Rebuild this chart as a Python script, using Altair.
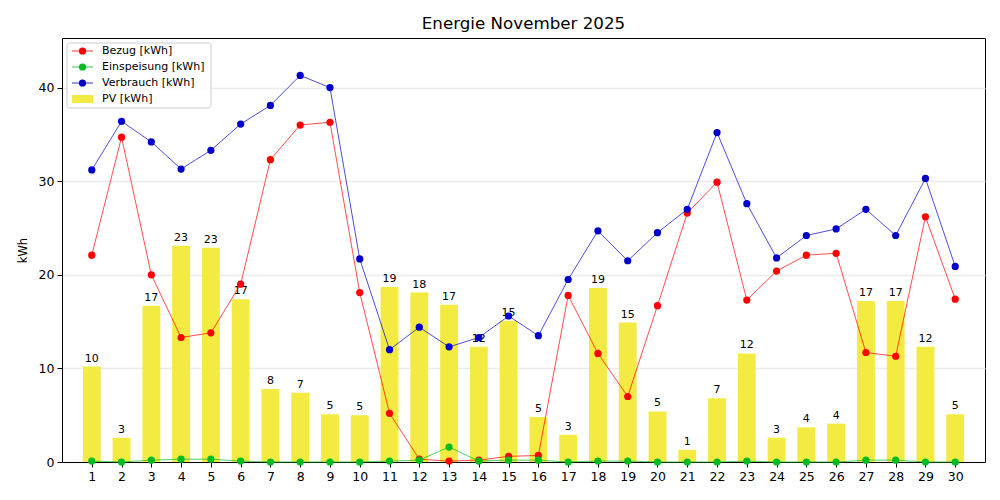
import altair as alt
import pandas as pd

days = list(range(1, 31))
bezug = [22.1, 34.7, 20.0, 13.3, 13.8, 19.0, 32.3, 36.0, 36.3, 18.1,
         5.2, 0.3, 0.1, 0.2, 0.6, 0.7, 17.8, 11.6, 7.0, 16.7,
         26.6, 29.9, 17.3, 20.4, 22.1, 22.3, 11.7, 11.3, 26.2, 17.4]
einspeisung = [0.1, 0.0, 0.2, 0.3, 0.3, 0.1, 0.0, 0.0, 0.0, 0.0,
               0.1, 0.2, 1.6, 0.1, 0.2, 0.2, 0.0, 0.1, 0.1, 0.0,
               0.0, 0.0, 0.1, 0.0, 0.0, 0.0, 0.2, 0.2, 0.0, 0.0]
verbrauch = [31.2, 36.4, 34.2, 31.3, 33.3, 36.1, 38.1, 41.3, 40.0, 21.7,
             12.0, 14.4, 12.3, 13.3, 15.6, 13.5, 19.5, 24.7, 21.5, 24.5,
             27.0, 35.2, 27.6, 21.8, 24.2, 24.9, 27.0, 24.2, 30.3, 20.9]
pv = [10.2, 2.6, 16.7, 23.1, 22.9, 17.4, 7.8, 7.4, 5.1, 5.0,
      18.7, 18.1, 16.8, 12.3, 15.1, 4.8, 2.9, 18.6, 14.9, 5.4,
      1.3, 6.8, 11.6, 2.6, 3.7, 4.1, 17.2, 17.2, 12.3, 5.1]

series_names = ["Bezug [kWh]", "Einspeisung [kWh]", "Verbrauch [kWh]", "PV [kWh]"]
series_colors = ["#ff0000", "#00bb22", "#0000cc", "#f3eb42"]

df = pd.DataFrame({"day": days, "bezug": bezug, "einspeisung": einspeisung,
                   "verbrauch": verbrauch, "pv": pv})

FONT = "DejaVu Sans"

x_scale = alt.Scale(domain=[0, 31], nice=False, zero=False)
y_scale = alt.Scale(domain=[0, 45.3], nice=False)

x_axis = alt.Axis(values=days, title=None, grid=False, labelFontSize=12.5,
                  tickSize=5, labelPadding=3, labelColor="#000000",
                  tickColor="#000000", domainColor="#000000", labelFlush=False,
                  labelOverlap=False, format="d")
y_axis = alt.Axis(values=[0, 10, 20, 30, 40], title="kWh", grid=True,
                  gridColor="#ebebeb", gridWidth=1.3, labelFontSize=12.5,
                  tickSize=5, labelPadding=3, titleFontSize=11.5,
                  titleFontWeight="normal", titlePadding=10,
                  labelColor="#000000", tickColor="#000000",
                  domainColor="#000000", titleColor="#000000",
                  labelOverlap=False, format="d")

base = alt.Chart(df)

bars = base.mark_bar(color=series_colors[3]).transform_calculate(
    x0="datum.day - 0.3", x1="datum.day + 0.3"
).encode(
    x=alt.X("x0:Q", scale=x_scale, axis=x_axis),
    x2="x1:Q",
    y=alt.Y("pv:Q", scale=y_scale, axis=y_axis),
    y2=alt.datum(0),
)

labels = base.mark_text(baseline="bottom", dy=-3, fontSize=11, font=FONT,
                        color="#000000").encode(
    x=alt.X("day:Q", scale=x_scale, axis=x_axis),
    y=alt.Y("pv:Q", scale=y_scale, axis=y_axis),
    text=alt.Text("pv:Q", format=".0f"),
)


def series(field, color):
    return base.mark_line(color=color, strokeWidth=0.7, point=alt.OverlayMarkDef(
        filled=True, size=52, color=color, opacity=1)).encode(
        x=alt.X("day:Q", scale=x_scale, axis=x_axis),
        y=alt.Y(f"{field}:Q", scale=y_scale, axis=y_axis),
    )


l_bez = series("bezug", series_colors[0])
l_ein = series("einspeisung", series_colors[1])
l_ver = series("verbrauch", series_colors[2])

# custom legend (matplotlib style)
one = pd.DataFrame({"k": [0]})
leg_layers = []
leg_layers.append(alt.Chart(one).mark_rect(
    fill="white", fillOpacity=0.85, stroke="#cccccc", strokeWidth=1,
    cornerRadius=3).encode(
    x=alt.value(5), x2=alt.value(149), y=alt.value(5), y2=alt.value(70)))
leg_y = [13, 29, 45, 61]
for i, name in enumerate(series_names):
    yy = leg_y[i]
    if i < 3:
        leg_layers.append(alt.Chart(one).mark_rule(
            color=series_colors[i], strokeWidth=0.8).encode(
            x=alt.value(10), x2=alt.value(31), y=alt.value(yy)))
        leg_layers.append(alt.Chart(one).mark_circle(
            color=series_colors[i], size=52, opacity=1).encode(
            x=alt.value(20.5), y=alt.value(yy)))
    else:
        leg_layers.append(alt.Chart(one).mark_rect(
            color=series_colors[i]).encode(
            x=alt.value(10), x2=alt.value(31), y=alt.value(yy - 4),
            y2=alt.value(yy + 4)))
    leg_layers.append(alt.Chart(one).mark_text(
        align="left", baseline="middle", fontSize=11, font=FONT,
        color="#000000").encode(
        x=alt.value(40), y=alt.value(yy), text=alt.value(name)))

chart = alt.layer(bars, labels, l_bez, l_ein, l_ver, *leg_layers).properties(
    width=923, height=424,
    title=alt.TitleParams("Energie November 2025", fontSize=16.7, font=FONT,
                          fontWeight="normal", anchor="middle", offset=5,
                          color="#000000"),
    autosize=alt.AutoSizeParams(type="none"),
    padding={"left": 54, "top": 30, "right": 7, "bottom": 30},
).configure(font=FONT).configure_view(
    stroke="#000000", strokeWidth=1
).configure_axis(labelFont=FONT, titleFont=FONT, labelOverlap=False)

chart.save("out.html", embed_options={"renderer": "svg", "actions": False})
